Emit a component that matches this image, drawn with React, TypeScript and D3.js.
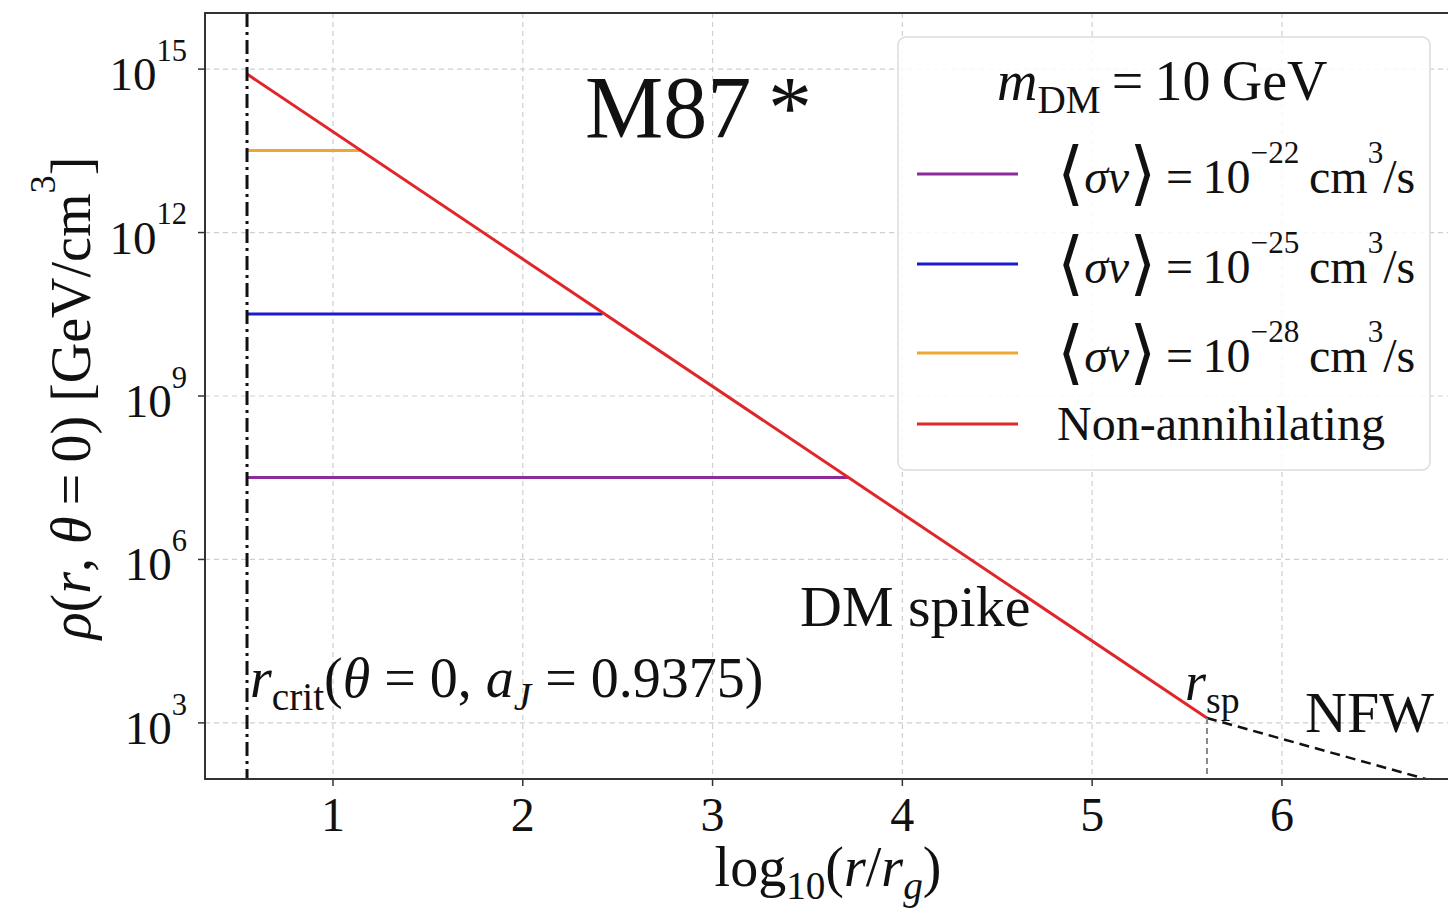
import React from "react";
import * as d3 from "d3";

const W = 1448;
const H = 910;

// axis ticks
const xTicks = [1, 2, 3, 4, 5, 6];
const yTickExps = [3, 6, 9, 12, 15];

// critical radius and the spike / NFW profile (log10 r/rg, rho in GeV/cm^3)
const rCrit = 0.547;
const rSp = 5.605;
const spikeLogR = [0.547, 5.605];
const spikeRho = [8.1e14, 1.23e3];
const nfwLogR = [5.605, 6.9];
const nfwRho = [1.23e3, 68];

// annihilation plateaus
const sigmaExps = ["−22", "−25", "−28"];
const plateauColors = ["#8e2b9c", "#1c1ccf", "#f0a732"];
const plateauRho = [3.2e7, 3.2e10, 3.2e13];
const plateauEnd = [3.72, 2.42, 1.15];
const spikeColor = "#e0262a";

const serif = "'Liberation Serif', 'Times New Roman', serif";
const thin = "\u2009";

type Part = [string, string?];

function Rich({ x, y, size, parts, anchor = "start", transform }: any) {
  let cur = 0;
  const spans = (parts as Part[]).map(([t, k = ""], i) => {
    let target = 0;
    let fs = size;
    if (k.startsWith("sup")) { target = size * 0.62; fs = size * 0.65; }
    if (k.startsWith("sub")) { target = -size * 0.24; fs = size * 0.7; }
    if (k === "br") { fs = size * 1.45; target = -size * 0.08; }
    const dy = cur - target;
    cur = target;
    return (
      <tspan key={i} dy={dy} fontSize={fs}
        fontStyle={k.endsWith("i") ? "italic" : "normal"}
        fontFamily={k === "br" ? "'DejaVu Serif', serif" : undefined}>
        {t}
      </tspan>
    );
  });
  return (
    <text x={x} y={y} fontSize={size} textAnchor={anchor} transform={transform}
      fontFamily={serif} fill="#111">
      {spans}
    </text>
  );
}

export default function App() {
  const left = 205, right = W, top = 13, bottom = 779;
  const x = d3.scaleLinear().domain([0.3256, 6.875]).range([left, right]);
  const y = d3.scaleLog().domain([Math.pow(10, 1.97), Math.pow(10, 16.03)]).range([bottom, top]);
  const line = d3.line<[number, number]>().x(d => x(d[0])).y(d => y(d[1]));

  const spike: [number, number][] = spikeLogR.map((r, i) => [r, spikeRho[i]]);
  const nfw: [number, number][] = nfwLogR.map((r, i) => [r, nfwRho[i]]);
  const yTicks = yTickExps.map(e => Math.pow(10, e));

  const legendRows = [
    ...sigmaExps.map((e, i) => ({ color: plateauColors[i], exp: e })),
    { color: spikeColor, exp: null as string | null },
  ];
  const legendY = [174, 264, 353, 424];

  return (
    <svg width={W} height={H} style={{ position: "absolute", left: 0, top: 0, background: "#fff" }}>
      <defs>
        <clipPath id="plot">
          <rect x={left} y={top} width={right - left} height={bottom - top} />
        </clipPath>
      </defs>

      {/* grid */}
      <g stroke="#cfcfcf" strokeWidth={1.2} strokeDasharray="5,4">
        {xTicks.map(t => <line key={t} x1={x(t)} x2={x(t)} y1={top} y2={bottom} />)}
        {yTicks.map(t => <line key={t} x1={left} x2={right} y1={y(t)} y2={y(t)} />)}
      </g>

      <g clipPath="url(#plot)" fill="none">
        {plateauRho.map((rho, i) => (
          <path key={i} d={line([[rCrit, rho], [plateauEnd[i], rho]])!}
            stroke={plateauColors[i]} strokeWidth={3} />
        ))}
        <path d={line(spike)!} stroke={spikeColor} strokeWidth={3} />
        <path d={line(nfw)!} stroke="#111" strokeWidth={2.5} strokeDasharray="10,6" />
        <line x1={x(rSp)} x2={x(rSp)} y1={y(spikeRho[1])} y2={bottom}
          stroke="#888" strokeWidth={2} strokeDasharray="6,4" />
        <line x1={x(rCrit)} x2={x(rCrit)} y1={top} y2={bottom}
          stroke="#111" strokeWidth={3} strokeDasharray="14,5,3,5" />
      </g>

      {/* spines */}
      <path d={`M${right},${top}H${left}V${bottom}H${right}`} fill="none" stroke="#333" strokeWidth={2} />

      {/* ticks */}
      <g stroke="#333" strokeWidth={1.5}>
        {xTicks.map(t => <line key={t} x1={x(t)} x2={x(t)} y1={bottom} y2={bottom + 7} />)}
        {yTicks.map(t => <line key={t} x1={left - 7} x2={left} y1={y(t)} y2={y(t)} />)}
      </g>
      {xTicks.map(t => (
        <text key={t} x={x(t)} y={831} fontSize={48} textAnchor="middle" fontFamily={serif} fill="#111">{t}</text>
      ))}
      {yTickExps.map(e => (
        <Rich key={e} x={187} y={y(Math.pow(10, e)) + 21} size={47} anchor="end"
          parts={[["10"], [String(e), "sup"]]} />
      ))}

      {/* axis labels */}
      <Rich x={828} y={886} size={56} anchor="middle"
        parts={[["log"], ["10", "sub"], ["("], ["r", "i"], ["/"], ["r", "i"], ["g", "subi"], [")"]]} />
      <Rich x={0} y={0} size={56} anchor="middle" transform="translate(90,398) rotate(-90)"
        parts={[["ρ", "i"], ["("], ["r", "i"], [", "], ["θ", "i"], [`${thin}=${thin}0) [GeV/cm`], ["3", "sup"], ["]"]]} />

      {/* annotations */}
      <text x={585} y={137} fontSize={88} fontFamily={serif} fill="#111">M87</text>
      <text x={768} y={137} fontSize={88} fontFamily={serif} fill="#111">*</text>
      <text x={800} y={626} fontSize={58} fontFamily={serif} fill="#111">DM spike</text>
      <Rich x={250} y={697} size={56}
        parts={[["r", "i"], ["crit", "sub"], ["("], ["θ", "i"], [" = 0, "], ["a", "i"], ["J", "subi"], [" = 0.9375)"]]} />
      <Rich x={1185} y={700} size={54} parts={[["r", "i"], ["sp", "sub"]]} />
      <text x={1305} y={732} fontSize={58} fontFamily={serif} fill="#111">NFW</text>

      {/* legend */}
      <rect x={898} y={37} width={532} height={433} rx={8} fill="#fff" fillOpacity={0.85} stroke="#dcdcdc" strokeWidth={1.5} />
      <Rich x={997} y={100} size={56} parts={[["m", "i"], ["DM", "sub"], [`${thin}=${thin}10${thin}GeV`]]} />
      {legendRows.map((r, i) => (
        <g key={i}>
          <line x1={917} x2={1018} y1={legendY[i]} y2={legendY[i]} stroke={r.color} strokeWidth={3} />
          {r.exp ? (
            <Rich x={1057} y={legendY[i] + 19} size={48}
              parts={[["⟨", "br"], ["σv", "i"], ["⟩", "br"], [`${thin}=${thin}10`], [r.exp, "sup"], [`${thin}cm`], ["3", "sup"], ["/s"]]} />
          ) : (
            <text x={1057} y={legendY[i] + 16} fontSize={48} fontFamily={serif} fill="#111">Non-annihilating</text>
          )}
        </g>
      ))}
    </svg>
  );
}
